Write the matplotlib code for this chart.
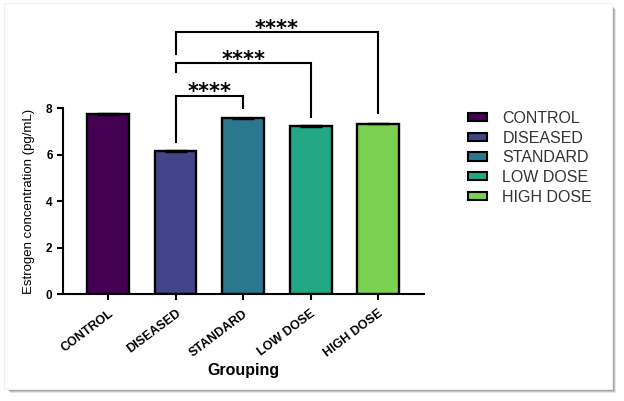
import matplotlib
matplotlib.use("Agg")
import matplotlib.pyplot as plt
from matplotlib.patches import Rectangle, Patch
import numpy as np

groups = ["CONTROL", "DISEASED", "STANDARD", "LOW DOSE", "HIGH DOSE"]
means = [7.75, 6.16, 7.57, 7.24, 7.34]
sems = [0.03, 0.03, 0.03, 0.03, 0.03]
colors = ["#440154", "#414487", "#2a788e", "#22a884", "#7ad151"]
yticks = [0, 2, 4, 6, 8]
# comparisons: (from index, to index, label)
comparisons = [(1, 2, "****"), (1, 3, "****"), (1, 4, "****")]
bracket_y = [8.53, 9.94, 11.27]
left_leg_end = [6.56, 9.57, 10.33]
right_leg_end = [8.0, 7.64, 7.80]

plt.rcParams['font.family'] = ['Liberation Sans', 'DejaVu Sans']

W, H = 624, 401
fig = plt.figure(figsize=(W / 100, H / 100), dpi=100)
fig.patch.set_facecolor("white")

# framed panel with shadow
def px(x0, y0, x1, y1):
    return (x0 / W, 1 - y1 / H), (x1 - x0) / W, (y1 - y0) / H

for i, a in enumerate([0.10, 0.14, 0.18, 0.22]):
    off = 4 - i
    xy, w, h = px(4 + off + 2, 3 + off + 2, 612 + off, 389 + off)
    fig.patches.append(Rectangle(xy, w, h, transform=fig.transFigure,
                                 facecolor="black", alpha=a, edgecolor="none", zorder=-2))
xy, w, h = px(4, 3, 612, 389)
fig.patches.append(Rectangle(xy, w, h, transform=fig.transFigure,
                             facecolor="white", edgecolor="#f0f0f0", lw=0.8, zorder=-1))

ax = fig.add_axes([63 / W, 1 - 294.3 / H, 361 / W, 186 / H])
ax.set_zorder(5)
ax.set_facecolor("none")
x = np.arange(len(groups))
ax.bar(x, means, width=0.62, color=colors, edgecolor="black", linewidth=1.7, zorder=2)
ax.errorbar(x, means, yerr=sems, fmt="none", ecolor="black", elinewidth=1.0,
            capsize=8, capthick=1.0, zorder=3)

ax.set_xlim(-0.667, 4.68)
ax.set_ylim(0, 8)
ax.set_yticks(yticks)
ax.set_yticklabels([str(t) for t in yticks], fontsize=8.5, fontweight="bold")
ax.set_xticks(x)
ax.set_xticklabels(groups, fontsize=9, fontweight="bold", rotation=37,
                   ha="right", va="top", rotation_mode="anchor")
ax.tick_params(axis="both", width=1.5, length=4.5, direction="out", color="black")
ax.tick_params(axis="x", pad=5)
ax.tick_params(axis="y", pad=3)
for s in ["top", "right"]:
    ax.spines[s].set_visible(False)
for s in ["left", "bottom"]:
    ax.spines[s].set_linewidth(1.5)

ax.set_ylabel("Estrogen concentration (pg/mL)", fontsize=9.5)
ax.yaxis.set_label_coords(-28 / 361, 0.5)

fig.text(243 / W, 1 - 370 / H, "Grouping", fontsize=11.5, fontweight="bold",
         ha="center", va="center", zorder=6)

# significance brackets
for (i0, i1, lab), yb, yl, yr in zip(comparisons, bracket_y, left_leg_end, right_leg_end):
    ax.plot([i0, i0, i1, i1], [yl, yb, yb, yr], color="black", lw=1.5,
            clip_on=False, zorder=4, solid_joinstyle="miter")
    ax.text((i0 + i1) / 2, yb - 0.1, lab, ha="center", va="baseline", fontsize=15,
            family="DejaVu Sans", fontweight="bold", clip_on=False)

handles = [Patch(facecolor=c, edgecolor="black", linewidth=1.5) for c in colors]
leg = fig.legend(handles, groups, loc="upper left", bbox_to_anchor=(468 / W, 1 - 111 / H),
                 frameon=False, fontsize=11.5, handlelength=1.2, handleheight=0.43,
                 handletextpad=0.95, labelspacing=0.29, borderaxespad=0, borderpad=0)
leg.set_zorder(6)
for t in leg.get_texts():
    t.set_color("#333333")

fig.savefig("out.png", dpi=100)
